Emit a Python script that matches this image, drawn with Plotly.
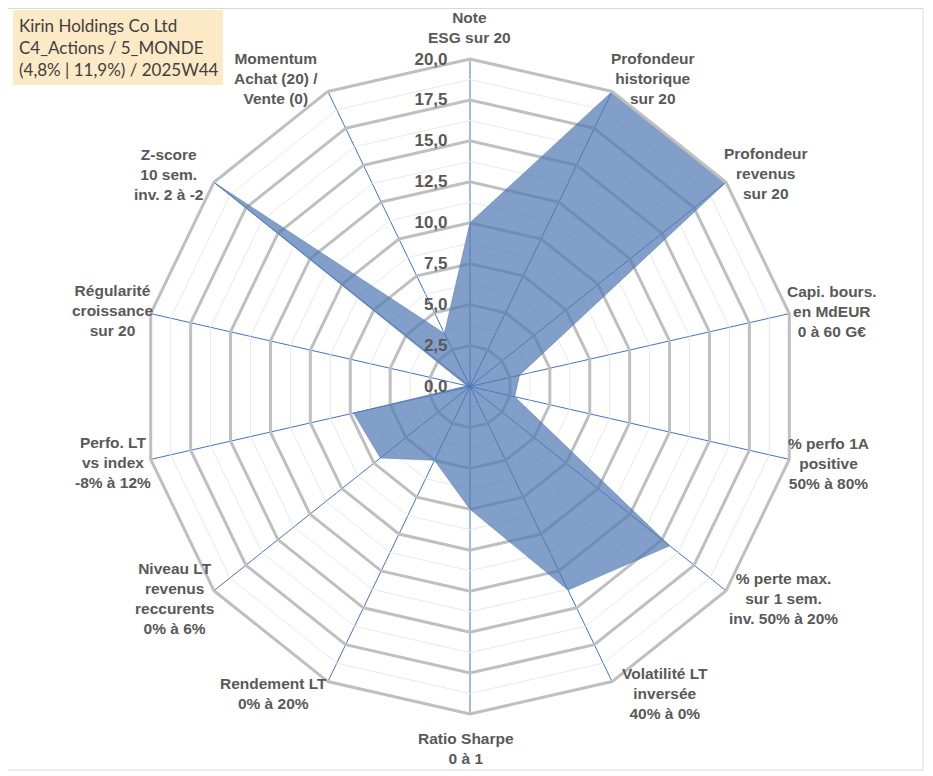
import plotly.graph_objects as go

categories = [
    "Note<br>ESG sur 20",
    "Profondeur<br>historique<br>sur 20",
    "Profondeur<br>revenus<br>sur 20",
    "Capi. bours.<br>en MdEUR<br>0 à 60 G€",
    "% perfo 1A<br>positive<br>50% à 80%",
    "% perte max.<br>sur 1 sem.<br>inv. 50% à 20%",
    "Volatilité LT<br>inversée<br>40% à 0%",
    "Ratio Sharpe<br>0 à 1",
    "Rendement LT<br>0% à 20%",
    "Niveau LT<br>revenus<br>reccurents<br>0% à 6%",
    "Perfo. LT<br>vs index<br>-8% à 12%",
    "Régularité<br>croissance<br>sur 20",
    "Z-score<br>10 sem.<br>inv. 2 à -2",
    "Momentum<br>Achat (20) /<br>Vente (0)",
]
scores = [10, 20, 20, 3.1, 2.8, 15.6, 13.8, 7.5, 5.0, 7.0, 7.3, 0.2, 20, 3.6]
minor_levels = [1.25, 3.75, 6.25, 8.75, 11.25, 13.75, 16.25, 18.75]
radial_ticks = [0, 2.5, 5, 7.5, 10, 12.5, 15, 17.5, 20]

title_lines = ["Kirin Holdings Co Ltd", "C4_Actions / 5_MONDE", "(4,8% | 11,9%) / 2025W44"]

# where the category labels sit on the page (centre of each text block, px)
label_xy = [(469, 28), (653, 79), (766, 173), (832, 311), (828, 463), (783, 598),
            (665, 693), (466, 748), (273, 693), (174, 598), (113, 462), (112, 310),
            (169, 174), (276, 79)]

# page has an 8px body margin: convert page pixels to paper fractions
W, H = 925, 768
def fx(x):
    return (x - 8) / W
def fy(y):
    return 1 - (y - 8) / H

fig = go.Figure()

# minor grid (polar axes have no minor ticks)
for lvl in minor_levels:
    fig.add_trace(go.Scatterpolar(
        r=[lvl] * (len(categories) + 1), theta=categories + [categories[0]],
        mode="lines", line=dict(color="#E8E8E8", width=1),
        hoverinfo="skip", showlegend=False))

fig.add_trace(go.Scatterpolar(
    r=scores + [scores[0]], theta=categories + [categories[0]],
    mode="lines", fill="toself",
    fillcolor="rgba(80,122,180,0.72)", line=dict(color="rgba(80,122,180,0.5)", width=1),
    name="Kirin", showlegend=False))

lab_font = dict(size=15.5, color="#595959", family="Liberation Sans, Arial", weight="bold")

fig.update_layout(
    width=W, height=H,
    margin=dict(l=0, r=0, t=0, b=0),
    paper_bgcolor="white",
    separators=", ",
    font=dict(family="Liberation Sans, Arial", color="#595959"),
    polar=dict(
        domain=dict(x=[fx(142.5), fx(797.5)], y=[fy(714), fy(59)]),
        bgcolor="white",
        gridshape="linear",
        radialaxis=dict(
            range=[0, 20], tickvals=radial_ticks, tickformat=".1f",
            angle=90, tickangle=90, side="counterclockwise",
            showline=False, ticks="outside", ticklen=16, tickcolor="rgba(0,0,0,0)",
            gridcolor="#BFBFBF", gridwidth=3,
            tickfont=dict(size=17, color="#595959", family="Liberation Sans, Arial", weight="bold"),
        ),
        angularaxis=dict(
            direction="clockwise", rotation=90,
            gridcolor="#4472C4", gridwidth=1.3,
            linecolor="#BFBFBF", linewidth=3, showline=True,
            ticks="", showticklabels=False,
        ),
    ),
)

# category labels, placed like the spreadsheet does
for text, (lx, ly) in zip(categories, label_xy):
    fig.add_annotation(xref="paper", yref="paper", x=fx(lx), y=fy(ly),
                       xanchor="center", yanchor="middle", align="center",
                       showarrow=False, text=text, font=lab_font)

# title box
fig.add_shape(type="rect", xref="paper", yref="paper",
              x0=fx(13), x1=fx(223), y0=fy(85), y1=fy(10),
              fillcolor="#FCE9C6", line=dict(width=0), layer="below")
fig.add_annotation(xref="paper", yref="paper", x=fx(17), y=fy(47),
                   xanchor="left", yanchor="middle", align="left", showarrow=False,
                   text="<br>".join(title_lines),
                   font=dict(family="Lato, Open Sans", size=17, color="#404040"))

# frame
fig.add_shape(type="rect", xref="paper", yref="paper",
              x0=fx(6), x1=fx(923), y0=fy(770), y1=fy(8.5),
              line=dict(color="#D9D9D9", width=1))

fig.write_html("out.html")
